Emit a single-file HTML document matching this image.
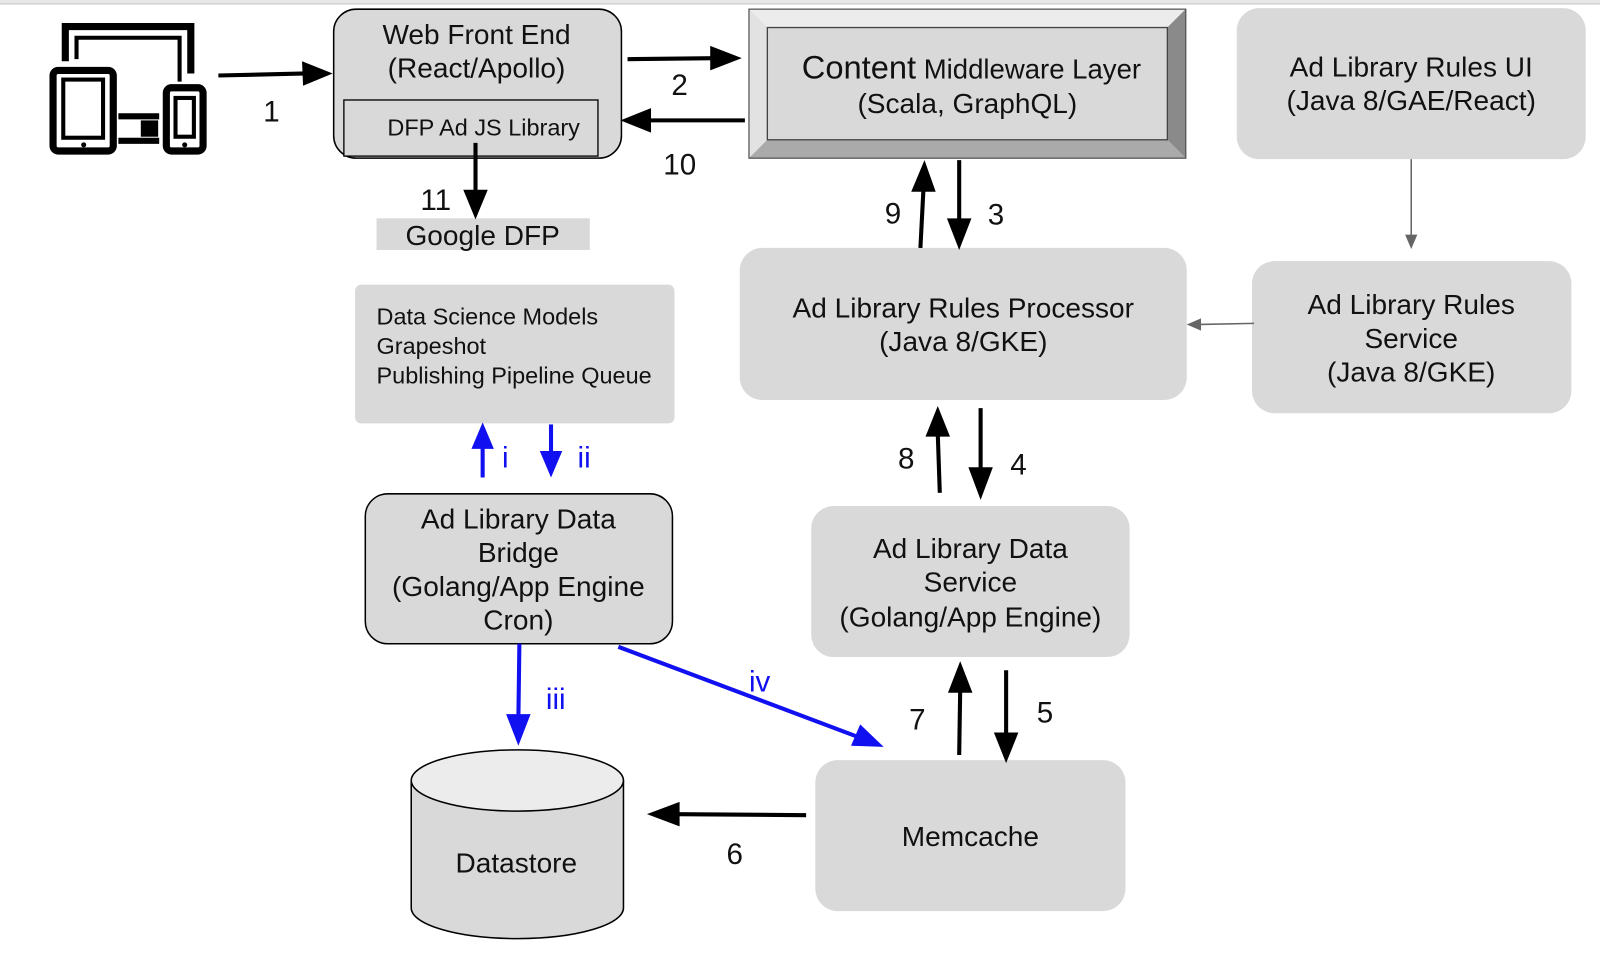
<!DOCTYPE html>
<html><head><style>
html,body{margin:0;padding:0;background:#fff;}
svg{display:block;}
text{font-family:"Liberation Sans",sans-serif;fill:#111;}
</style></head><body>
<svg width="1600" height="957" viewBox="0 0 1568 938" preserveAspectRatio="none" xmlns="http://www.w3.org/2000/svg">
<rect x="0" y="0" width="1568" height="5" fill="#e8e8e8"/>
<rect x="0" y="3" width="1568" height="1" fill="#d0d0d0"/>

<g fill="none" stroke="#000" stroke-width="7">
<path d="M64,60 V26 H187 V72"/>
<rect x="52" y="69" width="59" height="79" rx="5"/>
<rect x="163" y="86" width="36" height="62" rx="5"/>
</g>
<g fill="none" stroke="#000" stroke-width="4">
<path d="M75,58 V37 H176 V80"/>
<rect x="62" y="78" width="39" height="57"/>
<rect x="172" y="96" width="18" height="38"/>
</g>
<rect x="116" y="111" width="40" height="6"/>
<rect x="116" y="135" width="40" height="6"/>
<rect x="138" y="118" width="17" height="16"/>
<circle cx="82" cy="142" r="2.5"/><circle cx="181" cy="142" r="2.5"/>

<rect x="327" y="9" width="282" height="146" rx="22" fill="#d9d9d9" stroke="#000" stroke-width="1.5"/>
<rect x="337" y="98" width="249" height="55" fill="#d9d9d9" stroke="#000" stroke-width="1.3"/>
<text x="467" y="43" font-size="27.5" text-anchor="middle">Web Front End</text>
<text x="467" y="76" font-size="27.5" text-anchor="middle">(React/Apollo)</text>
<text x="474" y="133" font-size="23" text-anchor="middle">DFP Ad JS Library</text>

<rect x="369" y="214" width="209" height="31" fill="#d9d9d9"/>
<text x="473" y="240" font-size="27.5" text-anchor="middle">Google DFP</text>

<rect x="734" y="9" width="428" height="146" fill="#d9d9d9" stroke="#555" stroke-width="1"/>
<polygon points="734,9 1162,9 1144,27 752,27" fill="#ececec"/>
<polygon points="734,9 752,27 752,137 734,155" fill="#e2e2e2"/>
<polygon points="1162,9 1162,155 1144,137 1144,27" fill="#8a8a8a"/>
<polygon points="734,155 752,137 1144,137 1162,155" fill="#aaaaaa"/>
<rect x="752" y="27" width="392" height="110" fill="#d9d9d9" stroke="#444" stroke-width="1.3"/>
<rect x="734" y="9" width="428" height="146" fill="none" stroke="#555" stroke-width="1.2"/>
<text x="952" y="77" font-size="27" text-anchor="middle"><tspan font-size="32">Content</tspan> Middleware Layer</text>
<text x="948" y="111" font-size="27.5" text-anchor="middle">(Scala, GraphQL)</text>

<rect x="1212" y="8" width="342" height="148" rx="22" fill="#d9d9d9"/>
<text x="1383" y="75" font-size="27.5" text-anchor="middle">Ad Library Rules UI</text>
<text x="1383" y="108" font-size="27.5" text-anchor="middle">(Java 8/GAE/React)</text>

<rect x="725" y="243" width="438" height="149" rx="22" fill="#d9d9d9"/>
<text x="944" y="311" font-size="27.5" text-anchor="middle">Ad Library Rules Processor</text>
<text x="944" y="344" font-size="27.5" text-anchor="middle">(Java 8/GKE)</text>

<rect x="1227" y="256" width="313" height="149" rx="22" fill="#d9d9d9"/>
<text x="1383" y="308" font-size="27.5" text-anchor="middle">Ad Library Rules</text>
<text x="1383" y="341" font-size="27.5" text-anchor="middle">Service</text>
<text x="1383" y="374" font-size="27.5" text-anchor="middle">(Java 8/GKE)</text>

<rect x="348" y="279" width="313" height="136" rx="6" fill="#d9d9d9"/>
<text x="369" y="318" font-size="23">Data Science Models</text>
<text x="369" y="347" font-size="23">Grapeshot</text>
<text x="369" y="376" font-size="23">Publishing Pipeline Queue</text>

<rect x="358" y="484" width="301" height="147" rx="22" fill="#d9d9d9" stroke="#000" stroke-width="1.5"/>
<text x="508" y="518" font-size="27.5" text-anchor="middle">Ad Library Data</text>
<text x="508" y="551" font-size="27.5" text-anchor="middle">Bridge</text>
<text x="508" y="584" font-size="27.5" text-anchor="middle">(Golang/App Engine</text>
<text x="508" y="617" font-size="27.5" text-anchor="middle">Cron)</text>

<rect x="795" y="496" width="312" height="148" rx="22" fill="#d9d9d9"/>
<text x="951" y="547" font-size="27.5" text-anchor="middle">Ad Library Data</text>
<text x="951" y="580" font-size="27.5" text-anchor="middle">Service</text>
<text x="951" y="614" font-size="27.5" text-anchor="middle">(Golang/App Engine)</text>

<rect x="799" y="745" width="304" height="148" rx="22" fill="#d9d9d9"/>
<text x="951" y="829" font-size="27.5" text-anchor="middle">Memcache</text>

<path d="M403,765 V890 A104,30 0 0 0 611,890 V765" fill="#d9d9d9" stroke="#000" stroke-width="1.5"/>
<ellipse cx="507" cy="765" rx="104" ry="30" fill="#ececec" stroke="#000" stroke-width="1.5"/>
<text x="506" y="855" font-size="27.5" text-anchor="middle">Datastore</text>

<g stroke="#000" stroke-width="4" fill="none">
<line x1="214" y1="74" x2="300" y2="72"/>
<line x1="615" y1="58" x2="700" y2="57"/>
<line x1="730" y1="118" x2="634" y2="118"/>
<line x1="466" y1="140" x2="466" y2="190"/>
<line x1="902" y1="243" x2="905" y2="185"/>
<line x1="940" y1="157" x2="940" y2="218"/>
<line x1="921" y1="483" x2="919" y2="425"/>
<line x1="961" y1="400" x2="961" y2="462"/>
<line x1="940" y1="740" x2="941" y2="675"/>
<line x1="986" y1="657" x2="986" y2="722"/>
<line x1="790" y1="799" x2="664" y2="798"/>
</g>
<g fill="#000">
<polygon points="326,72 296,60 297,84"/>
<polygon points="727,57 696,45 696,69"/>
<polygon points="608,118 638,106 638,130"/>
<polygon points="466,215 454,186 478,186"/>
<polygon points="906,157 893,188 917,188"/>
<polygon points="940,245 928,214 952,214"/>
<polygon points="919,398 907,428 931,428"/>
<polygon points="961,490 949,458 973,458"/>
<polygon points="941,648 929,679 953,679"/>
<polygon points="986,748 974,718 998,718"/>
<polygon points="634,798 666,786 666,810"/>
</g>
<g stroke="#666" stroke-width="1.5">
<line x1="1383" y1="156" x2="1383" y2="232"/>
<line x1="1229" y1="317" x2="1176" y2="318"/>
</g>
<polygon points="1383,244 1377,230 1389,230" fill="#666"/>
<polygon points="1163,318 1177,312 1177,324" fill="#666"/>

<g stroke="#1010f0" stroke-width="4">
<line x1="473" y1="468" x2="473" y2="436"/>
<line x1="540" y1="416" x2="540" y2="446"/>
<line x1="509" y1="631" x2="508" y2="705"/>
<line x1="606" y1="634" x2="840" y2="722"/>
</g>
<g fill="#1010f0">
<polygon points="473,414 462,440 484,440"/>
<polygon points="540,468 529,442 551,442"/>
<polygon points="508,731 496,700 520,700"/>
<polygon points="866,732 834,731 843,710"/>
</g>

<g font-size="29">
<text x="258" y="119">1</text>
<text x="658" y="93">2</text>
<text x="650" y="171">10</text>
<text x="412" y="206">11</text>
<text x="867" y="219">9</text>
<text x="968" y="220">3</text>
<text x="880" y="459">8</text>
<text x="990" y="465">4</text>
<text x="891" y="715">7</text>
<text x="1016" y="708">5</text>
<text x="712" y="847">6</text>
</g>
<g font-size="29">
<text x="492" y="458" style="fill:#1010f0">i</text>
<text x="566" y="458" style="fill:#1010f0">ii</text>
<text x="535" y="695" style="fill:#1010f0">iii</text>
<text x="734" y="678" style="fill:#1010f0">iv</text>
</g>
</svg>
</body></html>
